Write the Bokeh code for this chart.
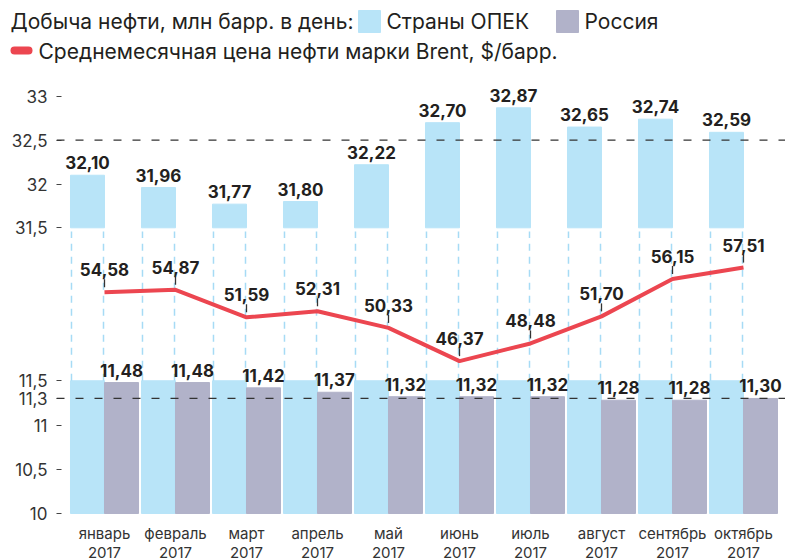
from bokeh.plotting import figure
from bokeh.models import (Range1d, FixedTicker, CustomJSTickFormatter, Span,
                          LabelSet, ColumnDataSource)
from bokeh.layouts import column
from bokeh.embed import file_html
from bokeh.resources import INLINE
from bokeh.core.properties import value

# ---------------- data ----------------
months = ["январь", "февраль", "март", "апрель", "май", "июнь",
          "июль", "август", "сентябрь", "октябрь"]
year = "2017"
opec = [32.10, 31.96, 31.77, 31.80, 32.22, 32.70, 32.87, 32.65, 32.74, 32.59]
russia = [11.48, 11.48, 11.42, 11.37, 11.32, 11.32, 11.32, 11.28, 11.28, 11.30]
brent = [54.58, 54.87, 51.59, 52.31, 50.33, 46.37, 48.48, 51.70, 56.15, 57.51]
top_ticks = [31.5, 32, 32.5, 33]
bottom_ticks = [10, 10.5, 11, 11.3, 11.5]
opec_ref = 32.5
russia_ref = 11.3
break_top = 31.5      # axis break: upper panel starts here
break_bottom = 11.5   # axis break: lower panel ends here
bottom_base = 10

# ---------------- style ----------------
FONT = "Inter"
BLUE = "#b8e4f8"
GRAY = "#b1b2c9"
RED = "#ec4650"
DASHBLUE = "#a6dbf5"
TXT = "#231f20"
W = 785
LB = 56
BW = 0.479

fmt = lambda v: f"{v:.2f}".replace(".", ",")
idx = list(range(len(months)))
x_opec = [i - BW / 2 for i in idx]
x_rus = [i + BW / 2 for i in idx]
edges = []
for i in idx:
    edges += [i - BW + 0.014, i - 0.014]

xr = Range1d(-0.676, -0.676 + (W - LB) / 71)


def base_fig(h, yr):
    p = figure(width=W, height=h, x_range=xr, y_range=yr,
               output_backend="svg", toolbar_location=None,
               min_border_left=LB, min_border_right=0,
               min_border_top=0, min_border_bottom=0)
    p.outline_line_color = None
    p.grid.visible = False
    p.background_fill_color = "white"
    p.border_fill_color = "white"
    p.xaxis.visible = False
    return p


def style_yaxis(p, ticks):
    ax = p.yaxis[0]
    ax.ticker = FixedTicker(ticks=ticks)
    ax.formatter = CustomJSTickFormatter(code="return String(tick).replace('.', ',');")
    ax.axis_line_color = None
    ax.major_tick_in = 5
    ax.major_tick_out = 0
    ax.minor_tick_line_color = None
    ax.major_tick_line_color = "#444444"
    ax.major_label_standoff = 9
    ax.major_label_text_font = FONT
    ax.major_label_text_font_size = "17px"
    ax.major_label_text_color = "#333333"


def value_labels(p, xs, ys, off, **kw):
    src = ColumnDataSource(dict(x=xs, y=ys, t=[fmt(v) for v in ys]))
    p.add_layout(LabelSet(x="x", y="y", text="t", source=src, y_offset=off,
                          text_align="center", text_baseline="alphabetic",
                          text_font=value(FONT), text_font_size="17px",
                          text_font_style="bold", text_color=TXT, **kw))


# ---------------- legend ----------------
LH = 70
leg = figure(width=W, height=LH, x_range=Range1d(0, W), y_range=Range1d(LH, 0),
             output_backend="svg", toolbar_location=None, min_border=0)
leg.frame_align = False
leg.axis.visible = False
leg.grid.visible = False
leg.outline_line_color = None
leg.quad(left=[358], right=[380], top=[10], bottom=[32], color=BLUE)
leg.quad(left=[556], right=[578], top=[10], bottom=[32], color=GRAY)
leg.line(x=[14, 28], y=[50, 50], line_width=8, line_cap="round", color=RED)
leg.text(x=[10, 386, 584, 38], y=[21, 21, 21, 51],
         text=["Добыча нефти, млн барр. в день:", "Страны ОПЕК", "Россия",
               "Среднемесячная цена нефти марки Brent, $/барр."],
         text_font=value(FONT), text_font_size="21px", text_color=TXT,
         text_baseline="middle", text_align="left")

# ---------------- top panel (OPEC) ----------------
top = base_fig(168, Range1d(31.3779, 33.2957))
style_yaxis(top, top_ticks)
top.vbar(x=x_opec, bottom=break_top, top=opec, width=BW, color=BLUE)
top.segment(x0=edges, x1=edges, y0=top.y_range.start, y1=break_top,
            line_color=DASHBLUE, line_width=1.5, line_dash="7 6")
top.add_layout(Span(location=opec_ref, dimension="width", line_color="#333333",
                    line_width=1.3, line_dash="8 11"))
value_labels(top, x_opec, opec, 6)

# ---------------- bottom panel (Russia) + Brent line ----------------
BH = 320
PPU = 88.5
bot = base_fig(BH, Range1d(bottom_base - 45 / PPU, bottom_base + 275 / PPU))
ppu = 8.4
b_end = 54.58 + 53.7 / ppu
bot.extra_y_ranges = {"brent": Range1d(b_end - BH / ppu, b_end)}
style_yaxis(bot, bottom_ticks)
bot.vbar(x=x_opec, bottom=bottom_base, top=break_bottom, width=BW, color=BLUE)
bot.vbar(x=x_rus, bottom=bottom_base, top=russia, width=BW, color=GRAY)
bot.segment(x0=edges, x1=edges, y0=break_bottom, y1=bot.y_range.end,
            line_color=DASHBLUE, line_width=1.5, line_dash="7 6")
bot.add_layout(Span(location=russia_ref, dimension="width", line_color="#333333",
                    line_width=1.3, line_dash="8 11"))
value_labels(bot, x_rus, russia, 6)

bot.line(x=idx, y=brent, line_color=RED, line_width=4, y_range_name="brent")
bot.segment(x0=idx, x1=idx, y0=[b + 5 / ppu for b in brent],
            y1=[b + 13 / ppu for b in brent], line_color="#333333",
            line_width=1.3, y_range_name="brent")
value_labels(bot, idx, brent, 16, y_range_name="brent")

# category labels under the bars (two lines)
cat_src = ColumnDataSource(dict(x=idx, y=[bottom_base] * len(idx), m=months,
                                yr=[year] * len(idx)))
for col, off in (("m", -20), ("yr", -39)):
    bot.add_layout(LabelSet(x="x", y="y", text=col, source=cat_src, y_offset=off,
                            text_align="center", text_baseline="middle",
                            text_font=value(FONT), text_font_size="15px",
                            text_color="#333333"))

layout = column(leg, top, bot, spacing=0)
open("out.html", "w").write(file_html(layout, INLINE))
